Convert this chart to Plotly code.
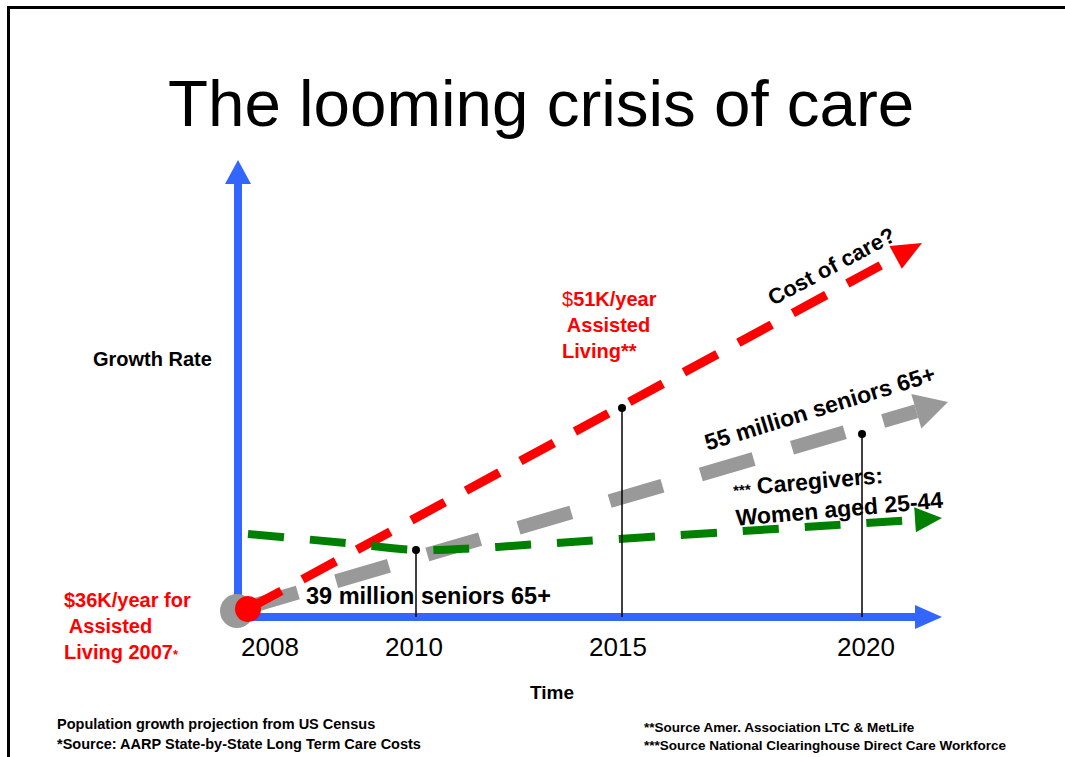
import numpy as np
import plotly.graph_objects as go

# ---- data (diagram frame: origin = corner of the drawn axes, y grows upward) ----
years = ["2008", "2010", "2015", "2020"]
year_pos = [32, 176, 380, 628]

time_axis_end = 704
growth_axis_end = 457

cost_x = [10, 684]
cost_y = [8, 374]

seniors_x = [7, 710]
seniors_y = [9, 215]

caregiver_x = [10, 108, 178, 240, 302, 489, 614, 704]
caregiver_y = [83, 74, 67, 69, 73, 85, 93, 99]

drop_x = [178, 384, 624]
drop_top = [67, 209, 183]

start_cost = (10, 8)
start_seniors = (-1, 6)

FONT = "Liberation Sans, Arial, sans-serif"
BLUE = "#3366FF"
RED = "#FF0000"
GRAY = "#999999"
GREEN = "#008000"

fig = go.Figure()


def head(xs, ys, length, half_w):
    tip = np.array([xs[-1], ys[-1]], dtype=float)
    prev = np.array([xs[-2], ys[-2]], dtype=float)
    d = tip - prev
    d /= np.linalg.norm(d)
    n = np.array([-d[1], d[0]])
    base = tip - length * d
    p1 = base + half_w * n
    p2 = base - half_w * n
    hx = [tip[0], p1[0], p2[0], tip[0]]
    hy = [tip[1], p1[1], p2[1], tip[1]]
    return hx, hy, base


def arrow(xs, ys, color, width, dash, length, half_w, shape="linear"):
    hx, hy, base = head(xs, ys, length, half_w)
    sx = list(xs[:-1]) + [base[0]]
    sy = list(ys[:-1]) + [base[1]]
    fig.add_trace(go.Scatter(x=sx, y=sy, mode="lines",
                             line=dict(color=color, width=width, dash=dash, shape=shape),
                             hoverinfo="skip", showlegend=False))
    fig.add_trace(go.Scatter(x=hx, y=hy, mode="lines", fill="toself", fillcolor=color,
                             line=dict(color=color, width=0), hoverinfo="skip", showlegend=False))


# blue axes
arrow([0, 0], [0, growth_axis_end], BLUE, 8, "solid", 24, 13)
arrow([0, time_axis_end], [0, 0], BLUE, 8, "solid", 27, 12)

# start circles
fig.add_trace(go.Scatter(x=[start_seniors[0]], y=[start_seniors[1]], mode="markers",
                         marker=dict(size=34, color=GRAY), hoverinfo="skip", showlegend=False,
                         cliponaxis=False))

# trend lines
arrow(seniors_x, seniors_y, GRAY, 14, "55px,40px", 33, 18)
arrow(cost_x, cost_y, RED, 9, "38px,24px", 30, 13)
arrow(caregiver_x, caregiver_y, GREEN, 8, "36px,26px", 27, 12.5, shape="spline")

fig.add_trace(go.Scatter(x=[start_cost[0]], y=[start_cost[1]], mode="markers",
                         marker=dict(size=26, color=RED), hoverinfo="skip", showlegend=False,
                         cliponaxis=False))

# drop lines with dots
for dx, dt in zip(drop_x, drop_top):
    fig.add_trace(go.Scatter(x=[dx, dx], y=[0, dt], mode="lines",
                             line=dict(color="black", width=1.5),
                             hoverinfo="skip", showlegend=False))
fig.add_trace(go.Scatter(x=drop_x, y=drop_top, mode="markers",
                         marker=dict(size=8, color="black"), hoverinfo="skip", showlegend=False))

ann = []


def txt(x, y, text, size, color="black", angle=0, xanchor="center", align="center", yanchor="middle"):
    ann.append(dict(x=x, y=y, xref="x", yref="y", text=text, showarrow=False,
                    font=dict(family=FONT, size=size, color=color), textangle=angle,
                    xanchor=xanchor, yanchor=yanchor, align=align))


txt(303, 514, "The looming crisis of care", 65.5)
txt(-86, 258, "<b>Growth Rate</b>", 20)
txt(314, -75, "<b>Time</b>", 19)
for lab, pos in zip(years, year_pos):
    txt(pos, -30, lab, 26)
txt(190, 21, "<b>39 million seniors 65+</b>", 23.5)
txt(-176, -9, "<b>$36K/year for<br> Assisted<br>Living 2007</b><span style='font-size:13px'><b>*</b></span>",
    20, RED, xanchor="left", align="left")
txt(322, 292, "$<b>51K/year<br> Assisted<br>Living**</b>", 20, RED, xanchor="left", align="left")
txt(593, 351, "<b>Cost of care?</b>", 22, angle=-28)
txt(582, 209, "<b>55 million seniors 65+</b>", 23, angle=-17)
txt(600, 123, "<span style='font-size:15px'><b>***</b></span><b> Caregivers:<br>Women aged 25-44</b>",
    23, angle=-5, xanchor="center", align="left")
txt(-183, -107, "<b>Population growth projection from US Census</b>", 14.5, xanchor="left")
txt(-183, -127, "<b>*Source: AARP State-by-State Long Term Care Costs</b>", 14.5, xanchor="left")
txt(404, -110, "<b>**Source Amer. Association LTC &amp; MetLife</b>", 13.5, xanchor="left")
txt(404, -128, "<b>***Source National Clearinghouse Direct Care Workforce</b>", 13.5, xanchor="left")

fig.update_layout(
    width=1065, height=757,
    margin=dict(l=0, r=0, t=0, b=0),
    paper_bgcolor="white", plot_bgcolor="white",
    xaxis=dict(range=[-238, 827], visible=False, fixedrange=True),
    yaxis=dict(range=[-140, 617], visible=False, fixedrange=True),
    annotations=ann,
    shapes=[
        dict(type="line", xref="paper", yref="paper", x0=7 / 1065, x1=1, y0=1 - 7.5 / 757, y1=1 - 7.5 / 757,
             line=dict(color="black", width=3)),
        dict(type="line", xref="paper", yref="paper", x0=8.5 / 1065, x1=8.5 / 1065, y0=0, y1=1 - 6 / 757,
             line=dict(color="black", width=3)),
    ],
)

fig.write_html("out.html", config={"displayModeBar": False},
               post_script="document.body.style.margin='0';document.body.style.overflow='hidden';")
